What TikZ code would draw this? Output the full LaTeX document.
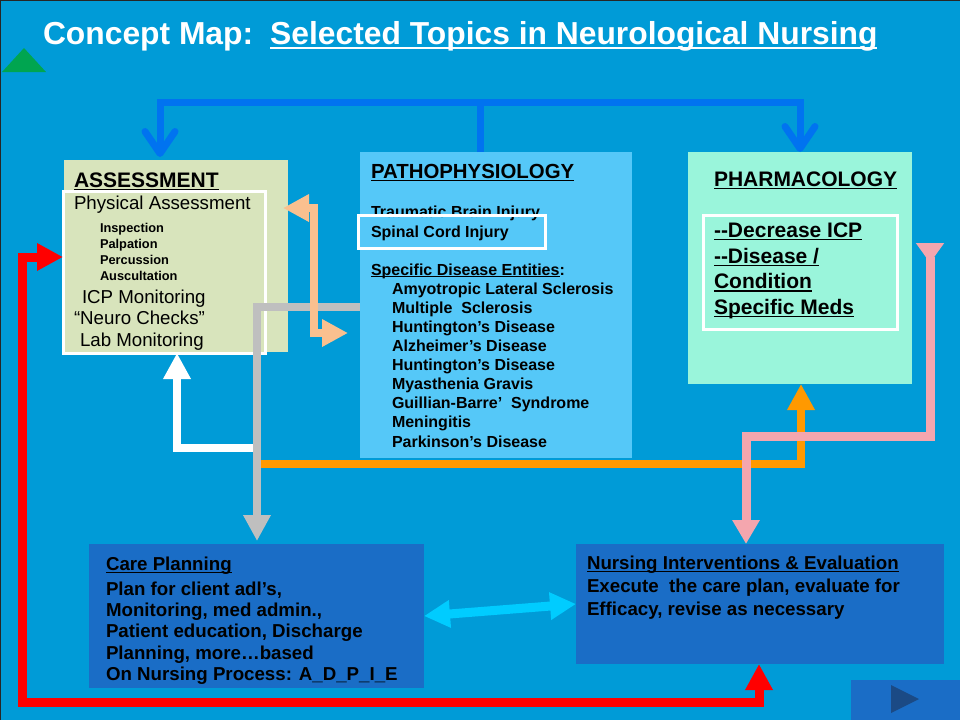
\documentclass[tikz,border=0pt]{standalone}
\usepackage{fontspec}
\setmainfont{Liberation Sans}
\usetikzlibrary{arrows.meta}
\definecolor{bgblue}{RGB}{0,155,215}
\definecolor{assfill}{RGB}{216,228,188}
\definecolor{pathfill}{RGB}{85,200,248}
\definecolor{pharmfill}{RGB}{154,245,219}
\definecolor{lowfill}{RGB}{26,109,198}
\definecolor{navtri}{RGB}{27,74,133}
\definecolor{arrblue}{RGB}{0,115,240}
\definecolor{peach}{RGB}{250,192,143}
\definecolor{grayln}{RGB}{191,191,191}
\definecolor{orangeln}{RGB}{255,153,0}
\definecolor{pinkln}{RGB}{244,166,174}
\definecolor{cyanln}{RGB}{0,204,255}
\definecolor{greentri}{RGB}{0,165,80}
\newcommand\myul[1]{\setbox0=\hbox{#1}\rlap{\rule[-0.15em]{\wd0}{0.07em}}\box0}
\newcommand\fs[1]{\fontsize{#1pt}{#1pt}\selectfont}
\tikzset{
  boxfill/.style={inner sep=0pt, outer sep=0pt, draw=none},
  wbox/.style={inner sep=0pt, outer sep=0pt, draw=white, line width=3pt, fill=none},
  txt/.style={anchor=base west, inner sep=0pt, outer sep=0pt, text=black},
  tip/.style={-{Triangle[length=26pt,width=26pt]}},
  dtip/.style={{Triangle[length=26pt,width=26pt]}-{Triangle[length=26pt,width=26pt]}},
  conn/.style={line width=8pt},
  barb/.style={-{Straight Barb[length=22pt,width=30pt,round]}},
}
\begin{document}
\begin{tikzpicture}[x=1pt,y=-1pt]
\useasboundingbox (0,0) rectangle (960,720);
\fill[bgblue] (0,0) rectangle (960,720);
\draw[black!85, line width=2pt] (0,720) -- (0,0) -- (960,0);

% title
\node[txt, text=white, font=\fs{31.8}\bfseries] (title) at (43,44)
  {Concept Map:\hspace{17pt}\myul{Selected Topics in Neurological Nursing}};
\fill[greentri] (2,72) -- (24,48) -- (46,72) -- cycle;

% boxes
\node[boxfill, fill=assfill, minimum width=224pt, minimum height=192pt] (assess) at (176,256) {};
\node[boxfill, fill=pathfill, minimum width=272pt, minimum height=306pt] (patho) at (496,305) {};
\node[boxfill, fill=pharmfill, minimum width=224pt, minimum height=232pt] (pharm) at (800,268) {};
\node[boxfill, fill=lowfill, minimum width=335pt, minimum height=144pt] (care) at (256.5,616) {};
\node[boxfill, fill=lowfill, minimum width=368pt, minimum height=120pt] (nurse) at (760,604) {};
\node[boxfill, fill=lowfill, minimum width=109pt, minimum height=40pt] (nav) at (905.5,700) {};
\fill[navtri] (891,685) -- (919,699) -- (891,713) -- cycle;

% assessment text
\node[txt, font=\fs{21}\bfseries] (tA0) at (74,187) {\myul{ASSESSMENT}};
\node[txt, font=\fs{18.7}] (tA1) at (74,209) {Physical Assessment};
\node[txt, font=\fs{12.8}\bfseries] (tA2) at (100,232) {Inspection};
\node[txt, font=\fs{12.8}\bfseries] (tA3) at (100,248) {Palpation};
\node[txt, font=\fs{12.8}\bfseries] (tA4) at (100,264) {Percussion};
\node[txt, font=\fs{12.8}\bfseries] (tA5) at (100,280) {Auscultation};
\node[txt, font=\fs{18.7}] (tA6) at (82,303) {ICP Monitoring};
\node[txt, font=\fs{18.7}] (tA7) at (74,324) {“Neuro Checks”};
\node[txt, font=\fs{18.7}] (tA8) at (80,346) {Lab Monitoring};

% pathophysiology text
\node[txt, font=\fs{20.4}\bfseries] (tP0) at (371,178) {\myul{PATHOPHYSIOLOGY}};
\node[txt, font=\fs{16}\bfseries] (tP1) at (371,217) {Traumatic Brain Injury};
\node[txt, font=\fs{16}\bfseries] (tP2) at (371,237) {Spinal Cord Injury};
\node[txt, font=\fs{16}\bfseries] (tP3) at (371,275) {\myul{Specific Disease Entities}:};
\node[txt, font=\fs{16}\bfseries] (tP4) at (392,294) {Amyotropic Lateral Sclerosis};
\node[txt, font=\fs{16}\bfseries] (tP5) at (392,313.1) {Multiple\ \ Sclerosis};
\node[txt, font=\fs{16}\bfseries] (tP6) at (392,332.3) {Huntington’s Disease};
\node[txt, font=\fs{16}\bfseries] (tP7) at (392,351.4) {Alzheimer’s Disease};
\node[txt, font=\fs{16}\bfseries] (tP8) at (392,370.5) {Huntington’s Disease};
\node[txt, font=\fs{16}\bfseries] (tP9) at (392,389.6) {Myasthenia Gravis};
\node[txt, font=\fs{16}\bfseries] (tP10) at (392,408.8) {Guillian-Barre’\ \ Syndrome};
\node[txt, font=\fs{16}\bfseries] (tP11) at (392,427.9) {Meningitis};
\node[txt, font=\fs{16}\bfseries] (tP12) at (392,447) {Parkinson’s Disease};

% pharmacology text
\node[txt, font=\fs{21}\bfseries] (tH0) at (714,186) {\myul{PHARMACOLOGY}};
\node[txt, font=\fs{21}\bfseries] (tH1) at (714,237) {\myul{-{}-Decrease ICP}};
\node[txt, font=\fs{21}\bfseries] (tH2) at (714,263) {\myul{-{}-Disease /}};
\node[txt, font=\fs{21}\bfseries] (tH3) at (714,288.5) {\myul{Condition}};
\node[txt, font=\fs{21}\bfseries] (tH4) at (714,314) {\myul{Specific Meds}};

% care planning text
\node[txt, font=\fs{18.7}\bfseries] (tC0) at (106,570) {\myul{Care Planning}};
\node[txt, font=\fs{18.7}\bfseries] (tC1) at (106,595) {Plan for client adl’s,};
\node[txt, font=\fs{18.7}\bfseries] (tC2) at (106,616) {Monitoring, med admin.,};
\node[txt, font=\fs{18.7}\bfseries] (tC3) at (106,637.5) {Patient education, Discharge};
\node[txt, font=\fs{18.7}\bfseries] (tC4) at (106,659) {Planning, more…based};
\node[txt, font=\fs{18.7}\bfseries] (tC5) at (106,680) {On Nursing Process: A\_D\_P\_I\_E};

% nursing text
\node[txt, font=\fs{18.7}\bfseries] (tN0) at (587,569) {\myul{Nursing Interventions \& Evaluation}};
\node[txt, font=\fs{18.7}\bfseries] (tN1) at (587,592) {Execute\ \ the care plan, evaluate for};
\node[txt, font=\fs{18.7}\bfseries] (tN2) at (587,615) {Efficacy, revise as necessary};

% white outline boxes
\node[wbox, minimum width=202pt, minimum height=162pt] (assessw) at (164,272) {};
\node[wbox, minimum width=187pt, minimum height=33pt] (pathow) at (451.5,231.5) {};
\node[wbox, minimum width=194pt, minimum height=114pt] (pharmw) at (800,272) {};

% coordinates
\coordinate (bM) at (480,102);
\coordinate (bL) at (160,102);
\coordinate (bR) at (800,102);
\coordinate (rA) at (22,257);
\coordinate (rB) at (22,702);
\coordinate (rC) at (759,702);
\coordinate (pA) at (314,208);
\coordinate (pB) at (314,333);
\coordinate (gA) at (257,307);
\coordinate (wA) at (177,448);
\coordinate (oA) at (257,464);
\coordinate (oB) at (801,464);
\coordinate (kA) at (930,243);
\coordinate (kB) at (930,436);
\coordinate (kC) at (746,436);

% connectors
\draw[white, conn, tip] (gA |- wA) -- (wA) -- (wA |- assessw.south);
\draw[orangeln, conn, tip] (gA |- oA) -- (oB) -- (oB |- pharm.south);
\draw[grayln, conn, tip, shorten >=3pt] (patho.west |- gA) -- (gA) -- (gA |- care.north);
\draw[pinkln, line width=9pt, {Triangle[reversed,length=20pt,width=27pt]}-{Triangle[length=24pt,width=26pt]}]
  (kA) -- (kB) -- (kC) -- (kC |- nurse.north);
\draw[peach, conn, dtip] ([xshift=-5pt]assess.east |- pA) -- (pA) -- (pB) -- ([xshift=-12pt]patho.west |- pB);
\draw[red, line width=9pt, dtip] (assessw.west |- rA) -- (rA) -- (rB) -- (rC) -- (rC |- nurse.south);
\draw[cyanln, line width=9pt, dtip] (care.east) -- (nurse.west);
\draw[arrblue, line width=7pt] (patho.north -| bM) -- (bM);
\draw[arrblue, line width=7pt, barb, shorten >=3pt] (bM) -- (bL) -- (bL |- assess.north);
\draw[arrblue, line width=7pt, barb] (bM) -- (bR) -- (bR |- pharm.north);
\end{tikzpicture}
\end{document}
